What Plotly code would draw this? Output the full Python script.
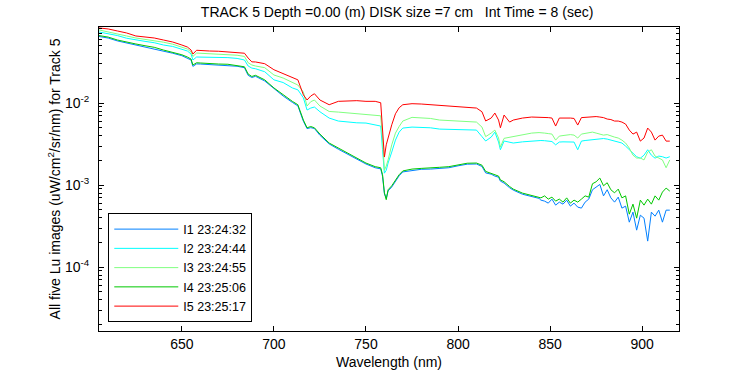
import plotly.graph_objects as go

# Wavelength grid (nm)
wavelength = [605, 610, 615, 620, 625, 630, 635, 640, 645, 650,
              653, 655, 656, 658, 660,
              665, 670, 675, 680, 684, 686, 688, 690,
              695, 700, 705, 710, 713, 716, 718, 720, 722, 725,
              730, 735, 740, 745, 750, 755, 758, 759, 760, 761, 762,
              764, 766, 768, 770, 775, 780, 785, 790, 795, 800,
              805, 810, 813, 815, 818, 820, 822, 823, 825, 828, 830,
              835, 840, 844,
              845, 847, 849, 851, 853, 855, 857, 859, 861, 863,
              865, 867, 869, 871, 873, 875, 877, 879, 881, 883,
              885, 887, 889, 891, 893, 895, 897, 899, 901, 903,
              905, 907, 909, 911, 913, 915]

i1 = [0.0648, 0.0620, 0.0572, 0.0540, 0.0508, 0.0488, 0.0462, 0.0432, 0.0405, 0.0378,
      0.0352, 0.0335, 0.0280, 0.0300, 0.0299,
      0.0295, 0.0290, 0.0288, 0.0281, 0.0270, 0.0218, 0.0205, 0.0212,
      0.0186, 0.0149, 0.0122, 0.0102, 0.00925, 0.00600, 0.00488, 0.00502, 0.00490, 0.00405,
      0.00318, 0.00274, 0.00240, 0.00206, 0.00181, 0.00163, 0.00158, 0.00128, 0.000790, 0.000690, 0.000850,
      0.000950, 0.00113, 0.00130, 0.00145, 0.00152, 0.00156, 0.00157, 0.00161, 0.00163, 0.00172,
      0.00180, 0.00181, 0.00169, 0.00141, 0.00136, 0.00129, 0.00125, 0.00112, 0.00106, 0.000930, 0.000870,
      0.000775, 0.000730, 0.000690,
      0.000657, 0.000639, 0.000604, 0.000676, 0.000571, 0.000621, 0.000587, 0.000657, 0.000555, 0.000604,
      0.000540, 0.000525, 0.000621, 0.000676, 0.000879, 0.000955, 0.00102, 0.000740, 0.000879, 0.000700,
      0.000621, 0.000715, 0.000525, 0.000555, 0.000354, 0.000469, 0.000283, 0.000431, 0.000396, 0.000208,
      0.000469, 0.000419, 0.000496, 0.000354, 0.000496, 0.000496]

i2 = [0.0735, 0.0700, 0.0665, 0.0617, 0.0587, 0.0565, 0.0544, 0.0510, 0.0490, 0.0456,
      0.0431, 0.0396, 0.0335, 0.0364, 0.0364,
      0.0362, 0.0360, 0.0358, 0.0350, 0.0335, 0.0283, 0.0267, 0.0262,
      0.0241, 0.0192, 0.0178, 0.0153, 0.0145, 0.0116, 0.00823, 0.00870, 0.00895, 0.00784,
      0.00657, 0.00604, 0.00587, 0.00575, 0.00571, 0.00544, 0.00525, 0.00270, 0.00140, 0.00152, 0.00186,
      0.00253, 0.00354, 0.00443, 0.00496, 0.00510, 0.00505, 0.00500, 0.00482, 0.00480, 0.00480,
      0.00475, 0.00469, 0.00390, 0.00345, 0.00385, 0.00443, 0.00335, 0.00270, 0.00345, 0.00337, 0.00326,
      0.00337, 0.00345, 0.00350,
      0.00350, 0.00348, 0.00344, 0.00340, 0.00310, 0.00335, 0.00337, 0.00337, 0.00340, 0.00335,
      0.00270, 0.00344, 0.00350, 0.00354, 0.00360, 0.00364, 0.00372, 0.00370, 0.00364, 0.00354,
      0.00344, 0.00335, 0.00326, 0.00299, 0.00270, 0.00239, 0.00222, 0.00213, 0.00232, 0.00270,
      0.00232, 0.00213, 0.00226, 0.00222, 0.00214, 0.00222]

i3 = [0.0778, 0.0740, 0.0705, 0.0657, 0.0621, 0.0600, 0.0575, 0.0552, 0.0522, 0.0482,
      0.0456, 0.0419, 0.0370, 0.0407, 0.0405,
      0.0396, 0.0396, 0.0392, 0.0383, 0.0370, 0.0310, 0.0291, 0.0283,
      0.0270, 0.0220, 0.0202, 0.0181, 0.0166, 0.0136, 0.00921, 0.0104, 0.0109, 0.00921,
      0.00790, 0.00777, 0.00760, 0.00756, 0.00740, 0.00715, 0.00700, 0.00354, 0.00152, 0.00171, 0.00203,
      0.00310, 0.00431, 0.00518, 0.00604, 0.00670, 0.00665, 0.00650, 0.00621, 0.00612, 0.00610,
      0.00595, 0.00587, 0.00510, 0.00390, 0.00431, 0.00469, 0.00375, 0.00291, 0.00372, 0.00383, 0.00385,
      0.00407, 0.00431, 0.00437,
      0.00437, 0.00431, 0.00425, 0.00419, 0.00354, 0.00396, 0.00402, 0.00407, 0.00413, 0.00407,
      0.00375, 0.00419, 0.00425, 0.00431, 0.00443, 0.00431, 0.00419, 0.00407, 0.00413, 0.00396,
      0.00385, 0.00375, 0.00354, 0.00326, 0.00283, 0.00232, 0.00214, 0.00214, 0.00203, 0.00253,
      0.00270, 0.00226, 0.00214, 0.00203, 0.00163, 0.00203]

i4 = [0.0665, 0.0637, 0.0587, 0.0552, 0.0525, 0.0500, 0.0478, 0.0443, 0.0418, 0.0388,
      0.0364, 0.0344, 0.0291, 0.0310, 0.0308,
      0.0302, 0.0299, 0.0297, 0.0289, 0.0277, 0.0226, 0.0211, 0.0218,
      0.0192, 0.0153, 0.0126, 0.0105, 0.00955, 0.00621, 0.00500, 0.00518, 0.00500, 0.00419,
      0.00326, 0.00283, 0.00246, 0.00214, 0.00186, 0.00168, 0.00163, 0.00134, 0.000807, 0.000665, 0.000879,
      0.000983, 0.00116, 0.00134, 0.00149, 0.00157, 0.00160, 0.00161, 0.00165, 0.00168, 0.00177,
      0.00185, 0.00186, 0.00175, 0.00147, 0.00140, 0.00134, 0.00129, 0.00116, 0.00110, 0.000963, 0.000895,
      0.000800, 0.000756, 0.000715,
      0.000700, 0.000740, 0.000676, 0.000715, 0.000639, 0.000676, 0.000621, 0.000700, 0.000604, 0.000657,
      0.000621, 0.000676, 0.000740, 0.000715, 0.00104, 0.00110, 0.00122, 0.000983, 0.00107, 0.000879,
      0.000807, 0.000895, 0.000700, 0.000740, 0.000443, 0.000587, 0.000396, 0.000657, 0.000571, 0.000676,
      0.000587, 0.000740, 0.000657, 0.000823, 0.000921, 0.000846]

i5 = [0.0823, 0.0800, 0.0756, 0.0715, 0.0657, 0.0639, 0.0621, 0.0587, 0.0555, 0.0510,
      0.0482, 0.0443, 0.0396, 0.0440, 0.0440,
      0.0431, 0.0428, 0.0420, 0.0412, 0.0405, 0.0354, 0.0318, 0.0317,
      0.0302, 0.0255, 0.0228, 0.0203, 0.0192, 0.0126, 0.0109, 0.0122, 0.0130, 0.0109,
      0.00955, 0.0105, 0.0107, 0.0107, 0.0105, 0.0105, 0.0101, 0.00469, 0.00220, 0.00310, 0.00378,
      0.00544, 0.00740, 0.00877, 0.00955, 0.00983, 0.00974, 0.00955, 0.00929, 0.00910, 0.00895,
      0.00890, 0.00870, 0.00784, 0.00605, 0.00657, 0.00756, 0.00621, 0.00500, 0.00715, 0.00587, 0.00621,
      0.00657, 0.00676, 0.00676,
      0.00676, 0.00670, 0.00665, 0.00657, 0.00525, 0.00657, 0.00660, 0.00665, 0.00657, 0.00650,
      0.00540, 0.00665, 0.00670, 0.00676, 0.00690, 0.00685, 0.00676, 0.00665, 0.00639, 0.00630,
      0.00604, 0.00604, 0.00587, 0.00555, 0.00469, 0.00419, 0.00443, 0.00344, 0.00375, 0.00496,
      0.00443, 0.00354, 0.00396, 0.00407, 0.00344, 0.00344]

series_names = ["I1 23:24:32", "I2 23:24:44", "I3 23:24:55", "I4 23:25:06", "I5 23:25:17"]
series_colors = ["rgb(0,128,255)", "rgb(0,255,255)", "rgb(128,255,128)", "rgb(0,200,0)", "rgb(255,0,0)"]
series_values = [i1, i2, i3, i4, i5]

x_tick_vals = [650, 700, 750, 800, 850, 900]
y_tick_vals = [1e-4, 1e-3, 1e-2]
y_tick_text = ["10<sup>-4</sup>", "10<sup>-3</sup>", "10<sup>-2</sup>"]

for s in series_values:
    assert len(s) == len(wavelength), len(s)

fig = go.Figure()
for name, vals, col in zip(series_names, series_values, series_colors):
    fig.add_trace(go.Scatter(x=wavelength, y=vals, mode="lines", name=name,
                             line=dict(color=col, width=1)))

minor_vals = [m * 10.0 ** e for e in range(-5, -1) for m in range(2, 10)]

font_family = "Liberation Sans, Arial, Helvetica, sans-serif"
fig.update_layout(
    width=750, height=375,
    margin=dict(l=99, r=71, t=27, b=44, autoexpand=False),
    paper_bgcolor="white", plot_bgcolor="white",
    font=dict(family=font_family, size=13, color="black"),
    title=dict(text="TRACK 5 Depth =0.00 (m) DISK size =7 cm\u00a0\u00a0\u00a0Int Time = 8 (sec)",
               x=0.514, xref="paper", xanchor="center",
               y=1 - 12 / 375, yref="container", yanchor="middle",
               font=dict(size=14)),
    showlegend=True,
    legend=dict(x=0.016, y=0.028, xanchor="left", yanchor="bottom",
                bgcolor="white", bordercolor="black", borderwidth=1,
                font=dict(size=12.5), tracegroupgap=0, itemwidth=64),
    xaxis=dict(range=[605, 920], tickmode="array", tickvals=x_tick_vals,
               ticks="inside", ticklen=5, tickcolor="black",
               tickfont=dict(size=14),
               showline=True, linecolor="black", linewidth=1, mirror="ticks",
               showgrid=False, zeroline=False,
               title=dict(text="Wavelength (nm)", standoff=6, font=dict(size=14))),
    yaxis=dict(type="log", range=[-4.777, -1.073], tickmode="array",
               tickvals=y_tick_vals, ticktext=y_tick_text,
               ticks="inside", ticklen=5, tickcolor="black",
               tickfont=dict(size=14), ticklabelstandoff=6,
               showline=True, linecolor="black", linewidth=1, mirror="ticks",
               showgrid=False, zeroline=False,
               minor=dict(tickmode="array", tickvals=minor_vals, ticks="inside",
                          ticklen=3, tickcolor="black", showgrid=False),
               title=dict(text="All five Lu images (uW/cm<sup>2</sup>/sr/nm) for Track 5",
                          standoff=1, font=dict(size=14))),
)

fig.write_html("out.html", config={"displayModeBar": False},
               post_script="document.body.style.margin='0px';")
